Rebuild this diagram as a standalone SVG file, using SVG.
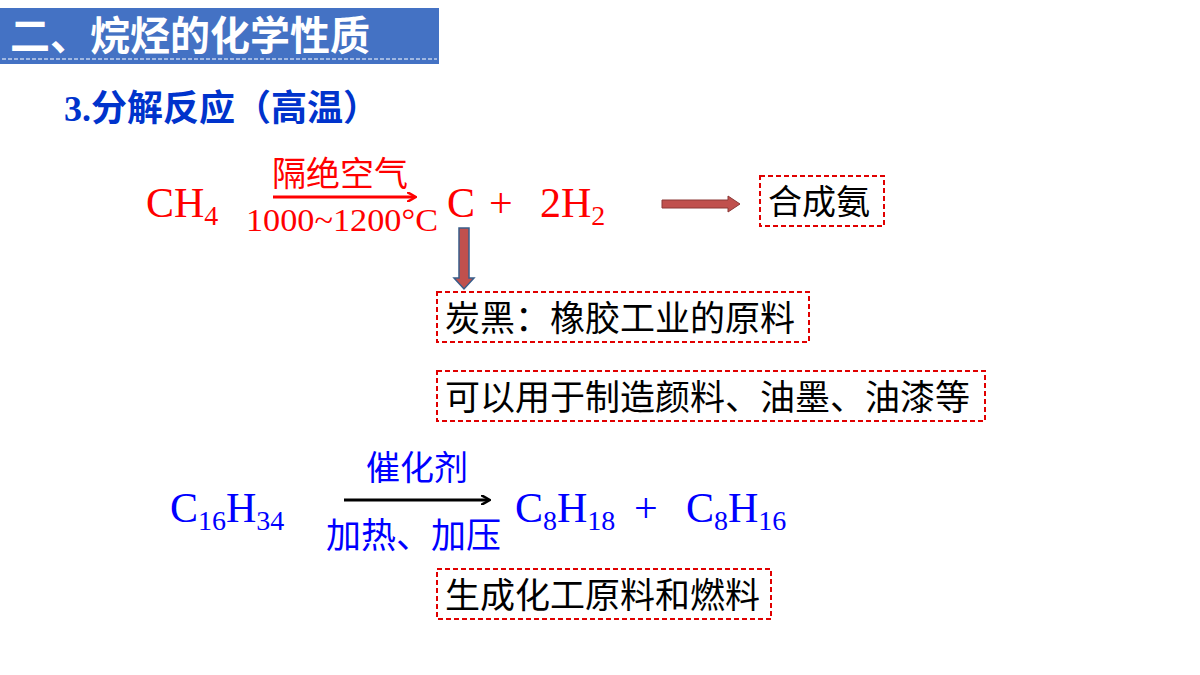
<svg xmlns="http://www.w3.org/2000/svg" width="1200" height="675" viewBox="0 0 1200 675">
<style>
.cjk{font-family:"Noto Sans CJK SC","Noto Sans",sans-serif}
.ser{font-family:"Liberation Serif",serif}
.box{fill:none;stroke:#e00000;stroke-width:2;stroke-dasharray:5,3}
.red{fill:#ff0000}.blue{fill:#0000ff}
</style>
<defs>
<marker id="ar" markerWidth="10" markerHeight="10" refX="8" refY="5" orient="auto" markerUnits="userSpaceOnUse"><path d="M0,0 L9,5 L0,10" fill="none" stroke="#ff0000" stroke-width="2.5"/></marker>
<marker id="ab" markerWidth="10" markerHeight="10" refX="8" refY="5" orient="auto" markerUnits="userSpaceOnUse"><path d="M0,0 L9,5 L0,10" fill="none" stroke="#000" stroke-width="2.5"/></marker>
</defs>
<rect width="1200" height="675" fill="#fff"/>
<g id="header">
<rect x="0" y="8" width="439" height="56" fill="#4472c4"/>
<line x1="2" y1="59" x2="437" y2="59" stroke="#fff" stroke-width="1" stroke-dasharray="4,2"/>
<text x="10" y="50" class="cjk" font-size="40" font-weight="bold" fill="#fff">二、烷烃的化学性质</text>
</g>
<g id="subtitle"><text x="64" y="121" class="cjk" font-size="36" font-weight="bold" fill="#0033cc"><tspan font-family="Liberation Serif,serif">3.</tspan>分解反应（高温）</text></g>
<g id="eq1">
<text x="146" y="217" class="ser red" font-size="42">CH<tspan font-size="28" dy="8">4</tspan></text>
<text x="272" y="186" class="cjk red" font-size="34">隔绝空气</text>
<text x="246" y="231" class="ser red" font-size="31" textLength="192" lengthAdjust="spacingAndGlyphs">1000~1200°C</text>
<text x="447" y="217" class="ser red" font-size="42">C</text>
<text x="489" y="217" class="ser red" font-size="42">+</text>
<text x="540" y="217" class="ser red" font-size="42">2H<tspan font-size="28" dy="8">2</tspan></text>
</g>
<g id="n1"><rect x="760" y="176" width="124" height="50" class="box"/><text x="768" y="214" class="cjk" font-size="34">合成氨</text></g>
<g id="n2"><rect x="437" y="292" width="372" height="50" class="box"/><text x="445" y="331" class="cjk" font-size="35">炭黑：橡胶工业的原料</text></g>
<g id="n3"><rect x="437" y="371" width="548" height="50" class="box"/><text x="445" y="410" class="cjk" font-size="35">可以用于制造颜料、油墨、油漆等</text></g>
<g id="eq2">
<text x="170" y="522" class="ser blue" font-size="42">C<tspan font-size="28" dy="8">16</tspan><tspan dy="-8">H</tspan><tspan font-size="28" dy="8">34</tspan></text>
<text x="366" y="480" class="cjk blue" font-size="34">催化剂</text>
<text x="326" y="548" class="cjk blue" font-size="35">加热、加压</text>
<text x="515" y="522" class="ser blue" font-size="42">C<tspan font-size="28" dy="8">8</tspan><tspan dy="-8">H</tspan><tspan font-size="28" dy="8">18</tspan></text>
<text x="634" y="522" class="ser blue" font-size="42">+</text>
<text x="686" y="522" class="ser blue" font-size="42">C<tspan font-size="28" dy="8">8</tspan><tspan dy="-8">H</tspan><tspan font-size="28" dy="8">16</tspan></text>
</g>
<g id="n4"><rect x="437" y="569" width="334" height="50" class="box"/><text x="445" y="608" class="cjk" font-size="35">生成化工原料和燃料</text></g>
<g id="connectors">
<line x1="273" y1="197" x2="415" y2="197" stroke="#ff0000" stroke-width="3" marker-end="url(#ar)"/>
<line x1="344" y1="500" x2="489" y2="500" stroke="#000" stroke-width="3" marker-end="url(#ab)"/>
<path d="M662,200 H728 V196 L740,204 L728,212 V208 H662 Z" fill="#c0504d" stroke="#8c3836" stroke-width="1"/>
<path d="M459,228 H469 V278 H474 L464,289 L454,278 H459 Z" fill="#c0504d" stroke="#385d8a" stroke-width="1.5"/>
</g>
</svg>
